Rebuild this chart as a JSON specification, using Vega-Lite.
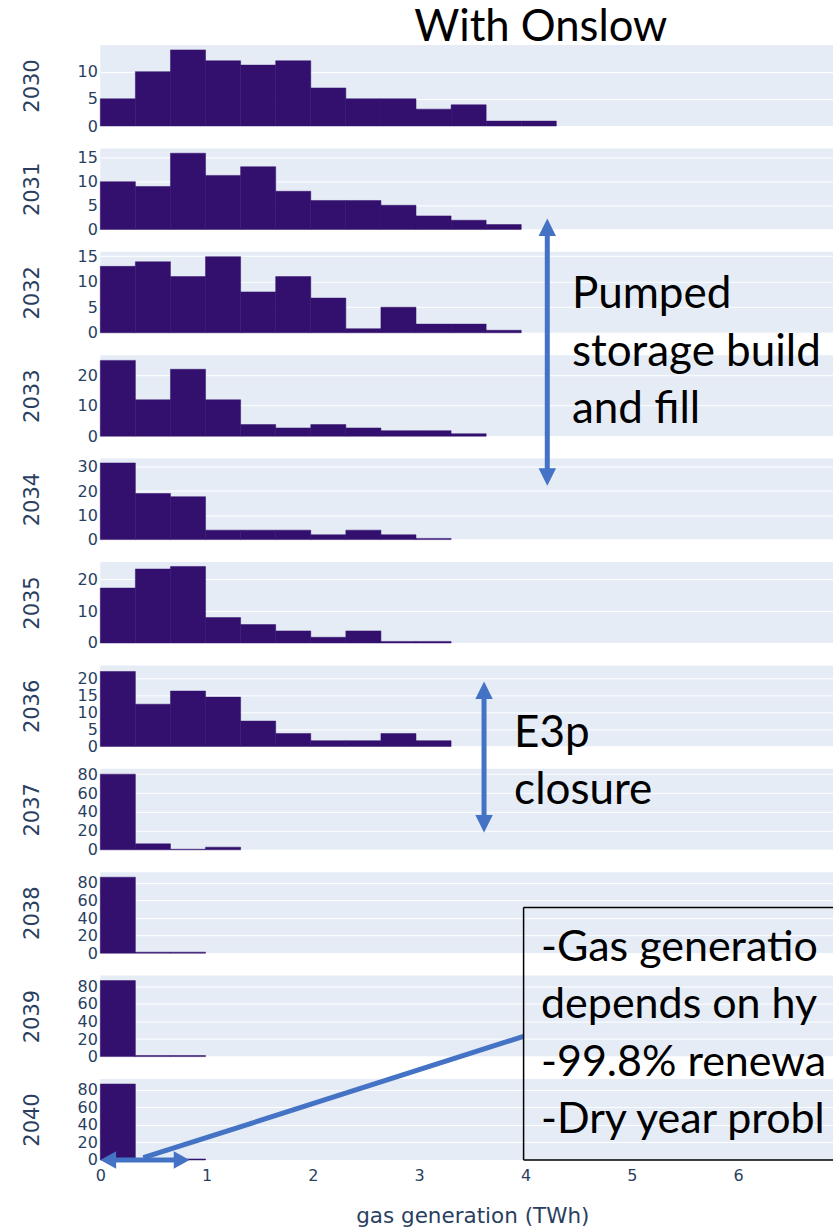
{
  "$schema": "https://vega.github.io/schema/vega-lite/v6.json",
  "background": "white",
  "padding": {"left": 20.3, "top": 5, "right": 0, "bottom": 0},
  "bounds": "flush",
  "spacing": 22.4,
  "datasets": {
    "bins": [
      {"year": 2030, "x0": 0, "x1": 0.33, "count": 5},
      {"year": 2030, "x0": 0.33, "x1": 0.66, "count": 10},
      {"year": 2030, "x0": 0.66, "x1": 0.99, "count": 14},
      {"year": 2030, "x0": 0.99, "x1": 1.32, "count": 12},
      {"year": 2030, "x0": 1.32, "x1": 1.65, "count": 11.2},
      {"year": 2030, "x0": 1.65, "x1": 1.98, "count": 12},
      {"year": 2030, "x0": 1.98, "x1": 2.31, "count": 7},
      {"year": 2030, "x0": 2.31, "x1": 2.64, "count": 5},
      {"year": 2030, "x0": 2.64, "x1": 2.97, "count": 5},
      {"year": 2030, "x0": 2.97, "x1": 3.3, "count": 3.1},
      {"year": 2030, "x0": 3.3, "x1": 3.63, "count": 3.9},
      {"year": 2030, "x0": 3.63, "x1": 3.96, "count": 0.9},
      {"year": 2030, "x0": 3.96, "x1": 4.29, "count": 0.9},
      {"year": 2031, "x0": 0, "x1": 0.33, "count": 9.9},
      {"year": 2031, "x0": 0.33, "x1": 0.66, "count": 8.9},
      {"year": 2031, "x0": 0.66, "x1": 0.99, "count": 15.8},
      {"year": 2031, "x0": 0.99, "x1": 1.32, "count": 11.2},
      {"year": 2031, "x0": 1.32, "x1": 1.65, "count": 13},
      {"year": 2031, "x0": 1.65, "x1": 1.98, "count": 7.9},
      {"year": 2031, "x0": 1.98, "x1": 2.31, "count": 6},
      {"year": 2031, "x0": 2.31, "x1": 2.64, "count": 6},
      {"year": 2031, "x0": 2.64, "x1": 2.97, "count": 5},
      {"year": 2031, "x0": 2.97, "x1": 3.3, "count": 2.8},
      {"year": 2031, "x0": 3.3, "x1": 3.63, "count": 1.9},
      {"year": 2031, "x0": 3.63, "x1": 3.96, "count": 1},
      {"year": 2032, "x0": 0, "x1": 0.33, "count": 13},
      {"year": 2032, "x0": 0.33, "x1": 0.66, "count": 13.9},
      {"year": 2032, "x0": 0.66, "x1": 0.99, "count": 11},
      {"year": 2032, "x0": 0.99, "x1": 1.32, "count": 14.9},
      {"year": 2032, "x0": 1.32, "x1": 1.65, "count": 8},
      {"year": 2032, "x0": 1.65, "x1": 1.98, "count": 11},
      {"year": 2032, "x0": 1.98, "x1": 2.31, "count": 6.8},
      {"year": 2032, "x0": 2.31, "x1": 2.64, "count": 0.8},
      {"year": 2032, "x0": 2.64, "x1": 2.97, "count": 5},
      {"year": 2032, "x0": 2.97, "x1": 3.3, "count": 1.7},
      {"year": 2032, "x0": 3.3, "x1": 3.63, "count": 1.7},
      {"year": 2032, "x0": 3.63, "x1": 3.96, "count": 0.5},
      {"year": 2033, "x0": 0, "x1": 0.33, "count": 24.8},
      {"year": 2033, "x0": 0.33, "x1": 0.66, "count": 11.9},
      {"year": 2033, "x0": 0.66, "x1": 0.99, "count": 21.9},
      {"year": 2033, "x0": 0.99, "x1": 1.32, "count": 11.9},
      {"year": 2033, "x0": 1.32, "x1": 1.65, "count": 3.8},
      {"year": 2033, "x0": 1.65, "x1": 1.98, "count": 2.7},
      {"year": 2033, "x0": 1.98, "x1": 2.31, "count": 3.8},
      {"year": 2033, "x0": 2.31, "x1": 2.64, "count": 2.7},
      {"year": 2033, "x0": 2.64, "x1": 2.97, "count": 1.8},
      {"year": 2033, "x0": 2.97, "x1": 3.3, "count": 1.8},
      {"year": 2033, "x0": 3.3, "x1": 3.63, "count": 0.8},
      {"year": 2034, "x0": 0, "x1": 0.33, "count": 31.6},
      {"year": 2034, "x0": 0.33, "x1": 0.66, "count": 19},
      {"year": 2034, "x0": 0.66, "x1": 0.99, "count": 17.7},
      {"year": 2034, "x0": 0.99, "x1": 1.32, "count": 3.9},
      {"year": 2034, "x0": 1.32, "x1": 1.65, "count": 3.9},
      {"year": 2034, "x0": 1.65, "x1": 1.98, "count": 3.9},
      {"year": 2034, "x0": 1.98, "x1": 2.31, "count": 2},
      {"year": 2034, "x0": 2.31, "x1": 2.64, "count": 3.9},
      {"year": 2034, "x0": 2.64, "x1": 2.97, "count": 2},
      {"year": 2034, "x0": 2.97, "x1": 3.3, "count": 0.5},
      {"year": 2035, "x0": 0, "x1": 0.33, "count": 17.3},
      {"year": 2035, "x0": 0.33, "x1": 0.66, "count": 23.3},
      {"year": 2035, "x0": 0.66, "x1": 0.99, "count": 24.1},
      {"year": 2035, "x0": 0.99, "x1": 1.32, "count": 8},
      {"year": 2035, "x0": 1.32, "x1": 1.65, "count": 5.8},
      {"year": 2035, "x0": 1.65, "x1": 1.98, "count": 3.8},
      {"year": 2035, "x0": 1.98, "x1": 2.31, "count": 1.8},
      {"year": 2035, "x0": 2.31, "x1": 2.64, "count": 3.8},
      {"year": 2035, "x0": 2.64, "x1": 2.97, "count": 0.5},
      {"year": 2035, "x0": 2.97, "x1": 3.3, "count": 0.5},
      {"year": 2036, "x0": 0, "x1": 0.33, "count": 22.2},
      {"year": 2036, "x0": 0.33, "x1": 0.66, "count": 12.5},
      {"year": 2036, "x0": 0.66, "x1": 0.99, "count": 16.4},
      {"year": 2036, "x0": 0.99, "x1": 1.32, "count": 14.6},
      {"year": 2036, "x0": 1.32, "x1": 1.65, "count": 7.5},
      {"year": 2036, "x0": 1.65, "x1": 1.98, "count": 3.8},
      {"year": 2036, "x0": 1.98, "x1": 2.31, "count": 1.7},
      {"year": 2036, "x0": 2.31, "x1": 2.64, "count": 1.7},
      {"year": 2036, "x0": 2.64, "x1": 2.97, "count": 3.8},
      {"year": 2036, "x0": 2.97, "x1": 3.3, "count": 1.7},
      {"year": 2037, "x0": 0, "x1": 0.33, "count": 80},
      {"year": 2037, "x0": 0.33, "x1": 0.66, "count": 6.3},
      {"year": 2037, "x0": 0.66, "x1": 0.99, "count": 0.6},
      {"year": 2037, "x0": 0.99, "x1": 1.32, "count": 2.8},
      {"year": 2038, "x0": 0, "x1": 0.33, "count": 86.6},
      {"year": 2038, "x0": 0.33, "x1": 0.66, "count": 1.2},
      {"year": 2038, "x0": 0.66, "x1": 0.99, "count": 1.2},
      {"year": 2039, "x0": 0, "x1": 0.33, "count": 86.6},
      {"year": 2039, "x0": 0.33, "x1": 0.66, "count": 1.2},
      {"year": 2039, "x0": 0.66, "x1": 0.99, "count": 1.2},
      {"year": 2040, "x0": 0, "x1": 0.33, "count": 86.6},
      {"year": 2040, "x0": 0.33, "x1": 0.66, "count": 1.2},
      {"year": 2040, "x0": 0.66, "x1": 0.99, "count": 1.2}
    ]
  },
  "config": {
    "view": {"fill": "#E5ECF6", "stroke": null},
    "axis": {"domain": false, "ticks": false, "tickSize": 0, "labelFont": "DejaVu Sans", "labelFontSize": 16, "labelColor": "#2a3f5f", "titleFont": "DejaVu Sans", "titleFontWeight": "normal", "titleColor": "#2a3f5f", "titleFontSize": 21, "labelOverlap": false, "labelFlush": false},
    "axisY": {"grid": true, "gridColor": "#ffffff", "gridWidth": 1, "gridOpacity": 1, "labelPadding": 3},
    "axisX": {"grid": false}
  },
  "vconcat": [
    {"width": 734, "height": 81, "resolve": {"axis": {"x": "independent", "y": "independent"}}, "layer": [
      {"data": {"name": "bins"}, "transform": [{"filter": "datum.year == 2030"}],
       "mark": {"type": "bar", "color": "#33106e", "stroke": "#33106e", "strokeWidth": 0.5},
       "encoding": {
         "x": {"field": "x0", "type": "quantitative", "scale": {"domain": [0, 6.905], "nice": false, "zero": false}, "axis": null},
         "x2": {"field": "x1"},
         "y": {"field": "count", "type": "quantitative", "scale": {"domain": [0, 14.9], "nice": false, "zero": false}, "axis": {"values": [0, 5, 10], "title": "2030", "titleAngle": 270, "titleX": -68.2, "titleY": 40.5, "titleAlign": "center", "titleBaseline": "middle"}},
         "y2": {"datum": 0}}},
      {"data": {"values": [{}]},
       "mark": {"type": "text", "text": "With Onslow", "font": "Lato", "fontSize": 43.6, "align": "center", "baseline": "alphabetic", "color": "#000000"},
       "encoding": {"x": {"datum": 4.144, "type": "quantitative", "axis": null}, "y": {"datum": 15.69, "type": "quantitative", "axis": null}}}
    ]},
    {"width": 734, "height": 81, "layer": [
      {"data": {"name": "bins"}, "transform": [{"filter": "datum.year == 2031"}],
       "mark": {"type": "bar", "color": "#33106e", "stroke": "#33106e", "strokeWidth": 0.5},
       "encoding": {
         "x": {"field": "x0", "type": "quantitative", "scale": {"domain": [0, 6.905], "nice": false, "zero": false}, "axis": null},
         "x2": {"field": "x1"},
         "y": {"field": "count", "type": "quantitative", "scale": {"domain": [0, 16.8], "nice": false, "zero": false}, "axis": {"values": [0, 5, 10, 15], "title": "2031", "titleAngle": 270, "titleX": -68.2, "titleY": 40.5, "titleAlign": "center", "titleBaseline": "middle"}},
         "y2": {"datum": 0}}}
    ]},
    {"width": 734, "height": 81, "layer": [
      {"data": {"name": "bins"}, "transform": [{"filter": "datum.year == 2032"}],
       "mark": {"type": "bar", "color": "#33106e", "stroke": "#33106e", "strokeWidth": 0.5},
       "encoding": {
         "x": {"field": "x0", "type": "quantitative", "scale": {"domain": [0, 6.905], "nice": false, "zero": false}, "axis": null},
         "x2": {"field": "x1"},
         "y": {"field": "count", "type": "quantitative", "scale": {"domain": [0, 15.85], "nice": false, "zero": false}, "axis": {"values": [0, 5, 10, 15], "title": "2032", "titleAngle": 270, "titleX": -68.2, "titleY": 40.5, "titleAlign": "center", "titleBaseline": "middle"}},
         "y2": {"datum": 0}}}
    ]},
    {"width": 734, "height": 81, "layer": [
      {"data": {"name": "bins"}, "transform": [{"filter": "datum.year == 2033"}],
       "mark": {"type": "bar", "color": "#33106e", "stroke": "#33106e", "strokeWidth": 0.5},
       "encoding": {
         "x": {"field": "x0", "type": "quantitative", "scale": {"domain": [0, 6.905], "nice": false, "zero": false}, "axis": null},
         "x2": {"field": "x1"},
         "y": {"field": "count", "type": "quantitative", "scale": {"domain": [0, 26.5], "nice": false, "zero": false}, "axis": {"values": [0, 10, 20], "title": "2033", "titleAngle": 270, "titleX": -68.2, "titleY": 40.5, "titleAlign": "center", "titleBaseline": "middle"}},
         "y2": {"datum": 0}}}
    ]},
    {"width": 734, "height": 81, "resolve": {"axis": {"x": "independent", "y": "independent"}}, "layer": [
      {"data": {"name": "bins"}, "transform": [{"filter": "datum.year == 2034"}],
       "mark": {"type": "bar", "color": "#33106e", "stroke": "#33106e", "strokeWidth": 0.5},
       "encoding": {
         "x": {"field": "x0", "type": "quantitative", "scale": {"domain": [0, 6.905], "nice": false, "zero": false}, "axis": null},
         "x2": {"field": "x1"},
         "y": {"field": "count", "type": "quantitative", "scale": {"domain": [0, 33.4], "nice": false, "zero": false}, "axis": {"values": [0, 10, 20, 30], "title": "2034", "titleAngle": 270, "titleX": -68.2, "titleY": 40.5, "titleAlign": "center", "titleBaseline": "middle"}},
         "y2": {"datum": 0}}},
      {"data": {"values": [{}]},
       "mark": {"type": "rule", "color": "#4472C4", "strokeWidth": 5},
       "encoding": {"x": {"datum": 4.205, "type": "quantitative", "axis": null}, "y": {"datum": 129.0, "type": "quantitative", "axis": null}, "y2": {"datum": 25.5}}},
      {"data": {"values": [{}]},
       "mark": {"type": "point", "shape": "M0,0L-1,2L1,2Z", "filled": true, "opacity": 1, "color": "#4472C4", "size": 306, "strokeWidth": 0},
       "encoding": {"x": {"datum": 4.205, "type": "quantitative", "axis": null}, "y": {"datum": 132.37, "type": "quantitative", "axis": null}}},
      {"data": {"values": [{}]},
       "mark": {"type": "point", "shape": "M0,0L-1,-2L1,-2Z", "filled": true, "opacity": 1, "color": "#4472C4", "size": 306, "strokeWidth": 0},
       "encoding": {"x": {"datum": 4.205, "type": "quantitative", "axis": null}, "y": {"datum": 22.22, "type": "quantitative", "axis": null}}},
      {"data": {"values": [{}]},
       "mark": {"type": "text", "text": ["Pumped", "storage build", "and fill"], "font": "Lato", "fontSize": 44, "lineHeight": 57.5, "align": "left", "baseline": "alphabetic", "color": "#000000"},
       "encoding": {"x": {"datum": 4.437, "type": "quantitative", "axis": null}, "y": {"datum": 95.42, "type": "quantitative", "axis": null}}}
    ]},
    {"width": 734, "height": 81, "layer": [
      {"data": {"name": "bins"}, "transform": [{"filter": "datum.year == 2035"}],
       "mark": {"type": "bar", "color": "#33106e", "stroke": "#33106e", "strokeWidth": 0.5},
       "encoding": {
         "x": {"field": "x0", "type": "quantitative", "scale": {"domain": [0, 6.905], "nice": false, "zero": false}, "axis": null},
         "x2": {"field": "x1"},
         "y": {"field": "count", "type": "quantitative", "scale": {"domain": [0, 25.5], "nice": false, "zero": false}, "axis": {"values": [0, 10, 20], "title": "2035", "titleAngle": 270, "titleX": -68.2, "titleY": 40.5, "titleAlign": "center", "titleBaseline": "middle"}},
         "y2": {"datum": 0}}}
    ]},
    {"width": 734, "height": 81, "layer": [
      {"data": {"name": "bins"}, "transform": [{"filter": "datum.year == 2036"}],
       "mark": {"type": "bar", "color": "#33106e", "stroke": "#33106e", "strokeWidth": 0.5},
       "encoding": {
         "x": {"field": "x0", "type": "quantitative", "scale": {"domain": [0, 6.905], "nice": false, "zero": false}, "axis": null},
         "x2": {"field": "x1"},
         "y": {"field": "count", "type": "quantitative", "scale": {"domain": [0, 24.0], "nice": false, "zero": false}, "axis": {"values": [0, 5, 10, 15, 20], "title": "2036", "titleAngle": 270, "titleX": -68.2, "titleY": 40.5, "titleAlign": "center", "titleBaseline": "middle"}},
         "y2": {"datum": 0}}}
    ]},
    {"width": 734, "height": 81, "resolve": {"axis": {"x": "independent", "y": "independent"}}, "layer": [
      {"data": {"name": "bins"}, "transform": [{"filter": "datum.year == 2037"}],
       "mark": {"type": "bar", "color": "#33106e", "stroke": "#33106e", "strokeWidth": 0.5},
       "encoding": {
         "x": {"field": "x0", "type": "quantitative", "scale": {"domain": [0, 6.905], "nice": false, "zero": false}, "axis": null},
         "x2": {"field": "x1"},
         "y": {"field": "count", "type": "quantitative", "scale": {"domain": [0, 85.7], "nice": false, "zero": false}, "axis": {"values": [0, 20, 40, 60, 80], "title": "2037", "titleAngle": 270, "titleX": -68.2, "titleY": 40.5, "titleAlign": "center", "titleBaseline": "middle"}},
         "y2": {"datum": 0}}},
      {"data": {"values": [{}]},
       "mark": {"type": "rule", "color": "#4472C4", "strokeWidth": 5},
       "encoding": {"x": {"datum": 3.610, "type": "quantitative", "axis": null}, "y": {"datum": 170.45, "type": "quantitative", "axis": null}, "y2": {"datum": 26.56}}},
      {"data": {"values": [{}]},
       "mark": {"type": "point", "shape": "M0,0L-1,2L1,2Z", "filled": true, "opacity": 1, "color": "#4472C4", "size": 306, "strokeWidth": 0},
       "encoding": {"x": {"datum": 3.610, "type": "quantitative", "axis": null}, "y": {"datum": 178.17, "type": "quantitative", "axis": null}}},
      {"data": {"values": [{}]},
       "mark": {"type": "point", "shape": "M0,0L-1,-2L1,-2Z", "filled": true, "opacity": 1, "color": "#4472C4", "size": 306, "strokeWidth": 0},
       "encoding": {"x": {"datum": 3.610, "type": "quantitative", "axis": null}, "y": {"datum": 18.41, "type": "quantitative", "axis": null}}},
      {"data": {"values": [{}]},
       "mark": {"type": "text", "text": ["E3p", "closure"], "font": "Lato", "fontSize": 44, "lineHeight": 57.5, "align": "left", "baseline": "alphabetic", "color": "#000000"},
       "encoding": {"x": {"datum": 3.893, "type": "quantitative", "axis": null}, "y": {"datum": 109.08, "type": "quantitative", "axis": null}}}
    ]},
    {"width": 734, "height": 81, "layer": [
      {"data": {"name": "bins"}, "transform": [{"filter": "datum.year == 2038"}],
       "mark": {"type": "bar", "color": "#33106e", "stroke": "#33106e", "strokeWidth": 0.5},
       "encoding": {
         "x": {"field": "x0", "type": "quantitative", "scale": {"domain": [0, 6.905], "nice": false, "zero": false}, "axis": null},
         "x2": {"field": "x1"},
         "y": {"field": "count", "type": "quantitative", "scale": {"domain": [0, 92.3], "nice": false, "zero": false}, "axis": {"values": [0, 20, 40, 60, 80], "title": "2038", "titleAngle": 270, "titleX": -68.2, "titleY": 40.5, "titleAlign": "center", "titleBaseline": "middle"}},
         "y2": {"datum": 0}}}
    ]},
    {"width": 734, "height": 81, "layer": [
      {"data": {"name": "bins"}, "transform": [{"filter": "datum.year == 2039"}],
       "mark": {"type": "bar", "color": "#33106e", "stroke": "#33106e", "strokeWidth": 0.5},
       "encoding": {
         "x": {"field": "x0", "type": "quantitative", "scale": {"domain": [0, 6.905], "nice": false, "zero": false}, "axis": null},
         "x2": {"field": "x1"},
         "y": {"field": "count", "type": "quantitative", "scale": {"domain": [0, 92.3], "nice": false, "zero": false}, "axis": {"values": [0, 20, 40, 60, 80], "title": "2039", "titleAngle": 270, "titleX": -68.2, "titleY": 40.5, "titleAlign": "center", "titleBaseline": "middle"}},
         "y2": {"datum": 0}}}
    ]},
    {"width": 734, "height": 81, "resolve": {"axis": {"x": "independent", "y": "independent"}}, "layer": [
      {"data": {"name": "bins"}, "transform": [{"filter": "datum.year == 2040"}],
       "mark": {"type": "bar", "color": "#33106e", "stroke": "#33106e", "strokeWidth": 0.5},
       "encoding": {
         "x": {"field": "x0", "type": "quantitative", "scale": {"domain": [0, 6.905], "nice": false, "zero": false}, "axis": {"values": [0, 1, 2, 3, 4, 5, 6], "title": "gas generation (TWh)", "labelPadding": 20.7, "labelBaseline": "alphabetic", "titleX": 372, "titleY": 63, "titleAlign": "center", "titleBaseline": "alphabetic", "titleFontSize": 21.5}},
         "x2": {"field": "x1"},
         "y": {"field": "count", "type": "quantitative", "scale": {"domain": [0, 92.3], "nice": false, "zero": false}, "axis": {"values": [0, 20, 40, 60, 80], "title": "2040", "titleAngle": 270, "titleX": -68.2, "titleY": 40.5, "titleAlign": "center", "titleBaseline": "middle"}},
         "y2": {"datum": 0}}},
      {"data": {"values": [{}]},
       "mark": {"type": "rule", "color": "#4472C4", "strokeWidth": 5},
       "encoding": {"x": {"datum": 3.982, "type": "quantitative", "axis": null}, "y": {"datum": 140.84, "type": "quantitative", "axis": null}, "x2": {"datum": 0.405}, "y2": {"datum": 2.6}}},
      {"data": {"values": [{}]},
       "mark": {"type": "rule", "color": "#4472C4", "strokeWidth": 5},
       "encoding": {"x": {"datum": 0.06, "type": "quantitative", "axis": null}, "x2": {"datum": 0.78}, "y": {"datum": 0, "type": "quantitative", "axis": null}}},
      {"data": {"values": [{}]},
       "mark": {"type": "point", "shape": "M0,0L1.8,-1L1.8,1Z", "filled": true, "opacity": 1, "color": "#4472C4", "size": 310, "strokeWidth": 0},
       "encoding": {"x": {"datum": 0, "type": "quantitative", "axis": null}, "y": {"datum": 0, "type": "quantitative", "axis": null}}},
      {"data": {"values": [{}]},
       "mark": {"type": "point", "shape": "M0,0L-1.8,-1L-1.8,1Z", "filled": true, "opacity": 1, "color": "#4472C4", "size": 310, "strokeWidth": 0},
       "encoding": {"x": {"datum": 0.84, "type": "quantitative", "axis": null}, "y": {"datum": 0, "type": "quantitative", "axis": null}}},
      {"data": {"values": [{}]},
       "mark": {"type": "rule", "color": "#000000", "strokeWidth": 1.5},
       "encoding": {"x": {"datum": 3.982, "type": "quantitative", "axis": null}, "x2": {"datum": 6.905}, "y": {"datum": 287.84, "type": "quantitative", "axis": null}}},
      {"data": {"values": [{}]},
       "mark": {"type": "rule", "color": "#000000", "strokeWidth": 1.5},
       "encoding": {"x": {"datum": 3.982, "type": "quantitative", "axis": null}, "y": {"datum": 287.84, "type": "quantitative", "axis": null}, "y2": {"datum": 0}}},
      {"data": {"values": [{}]},
       "mark": {"type": "rule", "color": "#000000", "strokeWidth": 1.5},
       "encoding": {"x": {"datum": 3.982, "type": "quantitative", "axis": null}, "x2": {"datum": 6.905}, "y": {"datum": 0, "type": "quantitative", "axis": null}}},
      {"data": {"values": [{}]},
       "mark": {"type": "text", "text": ["-Gas generation", "depends on hydro", "-99.8% renewable", "-Dry year problem"], "font": "Lato", "fontSize": 43, "lineHeight": 57.5, "align": "left", "baseline": "alphabetic", "color": "#000000", "limit": 292, "ellipsis": "\u200b"},
       "encoding": {"x": {"datum": 4.146, "type": "quantitative", "axis": null}, "y": {"datum": 227.1, "type": "quantitative", "axis": null}}}
    ]}
  ]
}
